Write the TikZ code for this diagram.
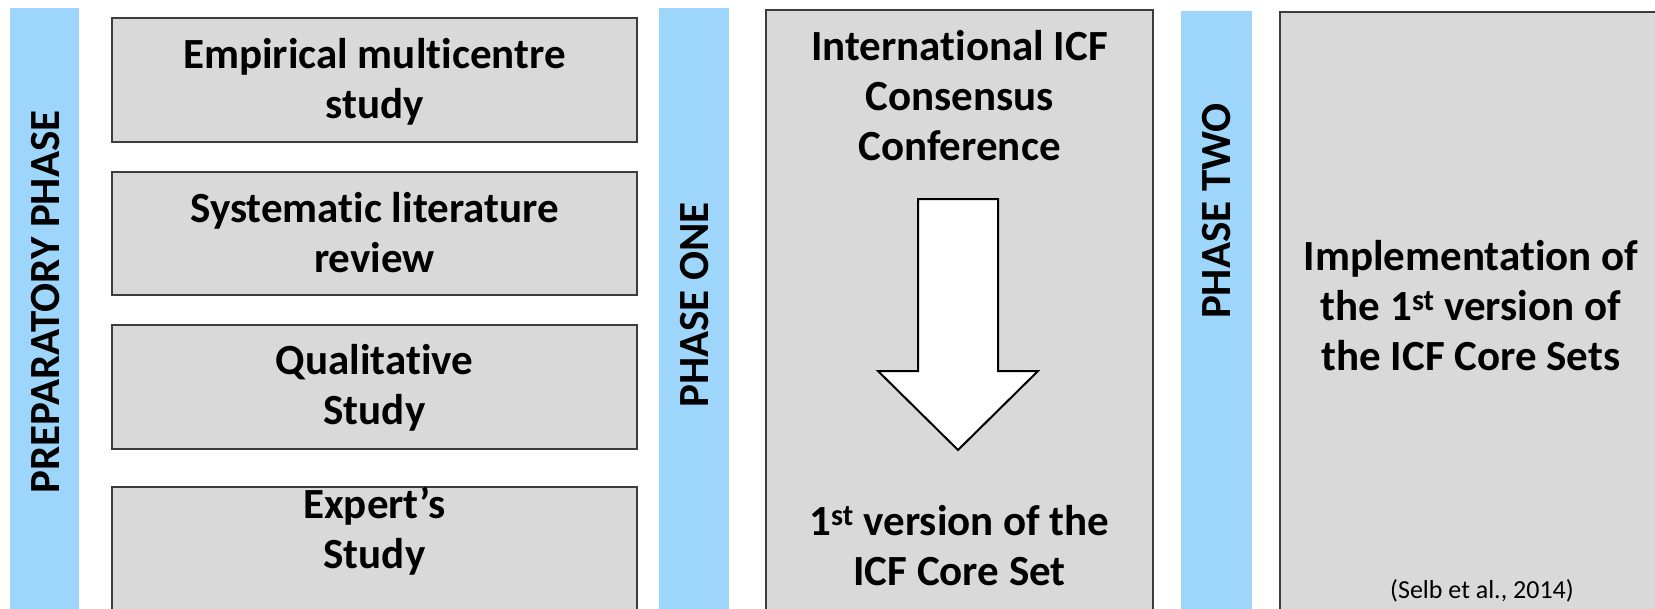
\documentclass[tikz,border=0pt]{standalone}
\usepackage{fontspec}
\setmainfont{Carlito}[Ligatures={NoCommon}]
\definecolor{barblue}{RGB}{157,214,250}
\definecolor{boxgray}{RGB}{217,217,217}
\definecolor{boxline}{RGB}{60,60,60}
\begin{document}
\begin{tikzpicture}[x=1pt,y=-1pt,
  bar/.style={fill=barblue,draw=none},
  box/.style={fill=boxgray,draw=boxline,line width=1.3pt},
  lbl/.style={font=\fontsize{43}{50}\selectfont\bfseries,rotate=90,inner sep=0pt},
  txt/.style={font=\fontsize{43}{50}\selectfont\bfseries,align=center,inner sep=0pt},
  cite/.style={font=\fontsize{26}{30}\selectfont,inner sep=0pt},
  blockarrow/.style={draw=black,fill=white,line width=2pt,line join=miter}]
\clip (0,0) rectangle (1655,608);
\fill[white] (0,0) rectangle (1655,608);
% blue phase bars
\fill[bar] (10,8) rectangle (79,620);
\fill[bar] (659,8) rectangle (729,620);
\fill[bar] (1181,11) rectangle (1252,620);
% left boxes
\draw[box] (112,18) rectangle (637,142);
\draw[box] (112,172) rectangle (637,295);
\draw[box] (112,325) rectangle (637,449);
\draw[box] (112,487) rectangle (637,640);
% middle and right boxes
\draw[box] (766,10) rectangle (1153,640);
\draw[box] (1280,12) rectangle (1680,640);
% labels
\node[lbl] (prep) at (46,302) {PREPARATORY PHASE};
\node[lbl] (one) at (695,305) {PHASE ONE};
\node[lbl] (two) at (1217,211) {PHASE TWO};
% texts (anchor base = baseline of last line)
\node[txt,anchor=base] (emp) at (374.5,118) {Empirical multicentre\\study};
\node[txt,anchor=base] (sys) at (374.5,272) {Systematic literature\\review};
\node[txt,anchor=base] (qual) at (374.5,424) {Qualitative\\Study};
\node[txt,anchor=base] (exp) at (374.5,568) {Expert's\\Study};
\node[txt,anchor=base] (conf) at (959.5,160) {International ICF\\Consensus\\Conference};
\node[txt,anchor=base] (first) at (959.5,585) {1\textsuperscript{st} version of the\\ICF Core Set};
\node[txt,anchor=base] (impl) at (1471,370) {Implementation of\\the 1\textsuperscript{st} version of\\the ICF Core Sets};
\node[cite,anchor=base] (selb) at (1482,598) {(Selb et al., 2014)};
% block arrow
\draw[blockarrow] (918,199) -- (998,199) -- (998,371) -- (1038,371) -- (958,450) -- (878,371) -- (918,371) -- cycle;
\end{tikzpicture}
\end{document}
